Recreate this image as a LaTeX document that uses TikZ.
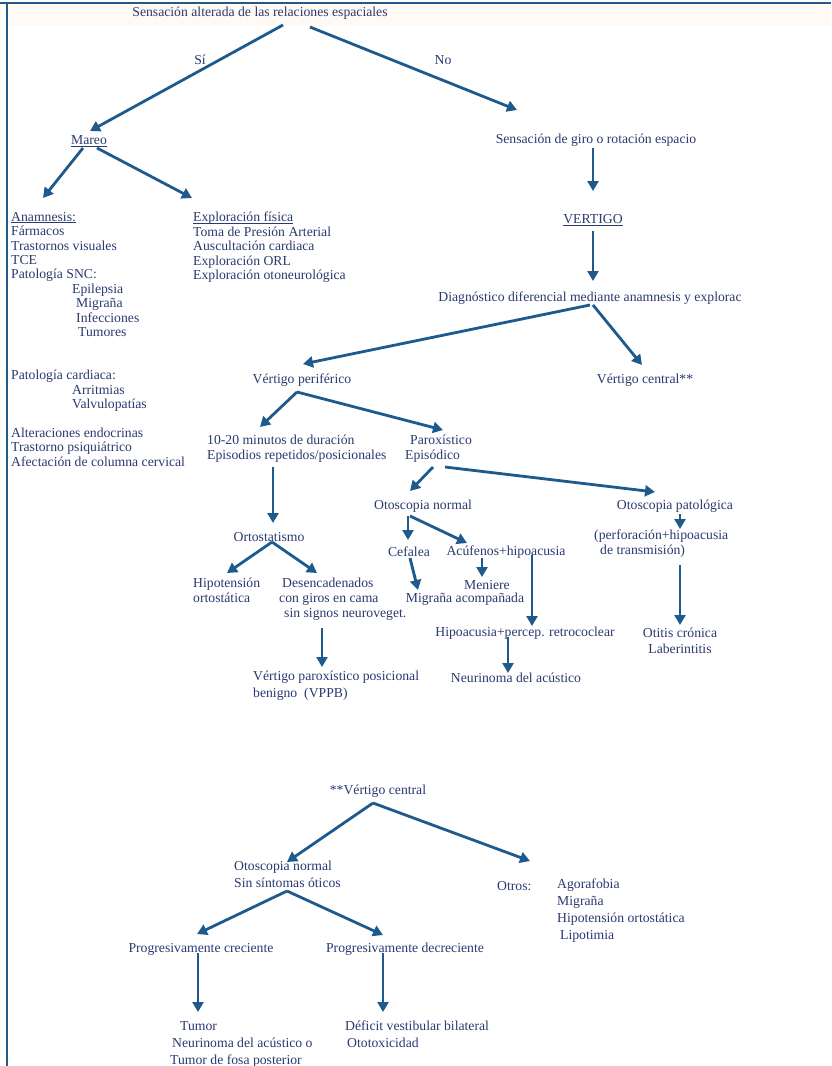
\documentclass[tikz,border=0pt]{standalone}
\usepackage{fontspec}
\setmainfont{Liberation Serif}
\usetikzlibrary{arrows.meta}
\definecolor{txt}{HTML}{2B3A70}
\definecolor{arrc}{HTML}{1E5A8C}
\definecolor{frm}{HTML}{245A88}
\newcommand{\myul}[1]{{\setbox0\hbox{#1}\rlap{\rule[-1.6pt]{\wd0}{0.6pt}}\box0}}
\begin{document}
\begin{tikzpicture}[x=1pt,y=-1pt,
 t/.style={inner sep=0pt, text=txt, font=\fontsize{13.7}{14.4}\selectfont},
 tl/.style={t, align=left, anchor=north west},
 tl15/.style={tl, font=\fontsize{13.7}{15}\selectfont},
 tl17/.style={tl, font=\fontsize{13.7}{17}\selectfont},
 arr/.style={draw=arrc, line width=2.8pt, -{Triangle[length=10pt,width=11pt]}},
]
\useasboundingbox (0,0) rectangle (831,1066);
\fill[white] (0,0) rectangle (831,1066);
\fill[orange!4] (8,5) rectangle (831,26);
\draw[frm, line width=2pt] (0,3) -- (831,3);
\draw[frm, line width=2pt] (7,3) -- (7,1066);

% top level
\node[t] (n0) at (260,13) {Sensación alterada de las relaciones espaciales};
\node[t] (si) at (200,60) {Sí};
\node[t] (no) at (443,60) {No};
\node[t] (mareo) at (89,141) {\myul{Mareo}};
\node[tl] (anam) at (11,212) {\myul{Anamnesis:}\\Fármacos\\Trastornos visuales\\TCE\\Patología SNC:\\
\hspace*{61pt}Epilepsia\\\hspace*{65pt}Migraña\\\hspace*{65pt}Infecciones\\\hspace*{67pt}Tumores\\[28.8pt]
Patología cardiaca:\\\hspace*{61pt}Arritmias\\\hspace*{61pt}Valvulopatías\\[14.4pt]
Alteraciones endocrinas\\Trastorno psiquiátrico\\Afectación de columna cervical};
\node[tl] (explo) at (193,212) {\myul{Exploración física}\\Toma de Presión Arterial\\Auscultación cardiaca\\Exploración ORL\\Exploración otoneurológica};

\node[t] (giro) at (596,140) {Sensación de giro o rotación espacio};
\node[t] (vert) at (593,220) {\myul{VERTIGO}};
\node[t] (diag) at (590,298) {Diagnóstico diferencial mediante anamnesis y explorac};
\node[t] (vper) at (302,380) {Vértigo periférico};
\node[t] (vcen) at (645,380) {Vértigo central**};
\node[tl15] (min) at (207,435) {10-20 minutos de duración\\Episodios repetidos/posicionales};
\node[tl15] (parox) at (405,435) {\hspace*{5pt}Paroxístico\\Episódico};
\node[t] (otn) at (423,506) {Otoscopia normal};
\node[t] (otp) at (675,506) {Otoscopia patológica};
\node[t] (orto) at (269,537) {Ortostatismo};
\node[t] (cef) at (409,552) {Cefalea};
\node[t] (acuf) at (506,552) {Acúfenos+hipoacusia};
\node[tl15] (perf) at (594,530) {(perforación+hipoacusia\\\hspace*{6pt}de transmisión)};
\node[tl15] (hipo) at (193,578) {Hipotensión\\ortostática};
\node[tl15] (desen) at (279,578) {\hspace*{3pt}Desencadenados\\con giros en cama\\\hspace*{5pt}sin signos neuroveget.};
\node[t] (men) at (487,585) {Meniere};
\node[t] (migac) at (465,599) {Migraña acompañada};
\node[t] (hipoac) at (525,633) {Hipoacusia+percep. retrococlear};
\node[t, align=center, font=\fontsize{13.7}{16}\selectfont] (otitis) at (680,641) {Otitis crónica\\Laberintitis};
\node[tl17] (vppb) at (253,671) {Vértigo paroxístico posicional\\benigno\ \ (VPPB)};
\node[t] (neur) at (516,678) {Neurinoma del acústico};

% arrows upper part
\draw[arr] ([shift={(23,12)}]n0.center) -- ([shift={(1,-10)}]mareo.center);
\draw[arr] ([shift={(50,14)}]n0.center) -- ([shift={(-79,-30)}]giro.center);
\draw[arr] ([shift={(-6,7)}]mareo.center) -- ([shift={(32,-14)}]anam.north west);
\draw[arr] ([shift={(8,7)}]mareo.center) -- ([shift={(-1,-14)}]explo.north west);
\draw[arr] ([shift={(-3,8)}]giro.center) -- ([shift={(0,-29)}]vert.center);
\draw[arr] ([shift={(0,11)}]vert.center) -- ([shift={(3,-17)}]diag.center);
\draw[arr] ([shift={(0,7)}]diag.center) -- ([shift={(1,-16)}]vper.center);
\draw[arr] ([shift={(3,7)}]diag.center) -- ([shift={(-3,-15)}]vcen.center);
\draw[arr] ([shift={(-5,12)}]vper.center) -- ([shift={(53,-8)}]min.north west);
\draw[arr] ([shift={(-5,12)}]vper.center) -- ([shift={(38,-5)}]parox.north west);
\draw[arr] ([shift={(66,32)}]min.north west) -- ([shift={(4,-14)}]orto.center);
\draw[arr] ([shift={(28,32)}]parox.north west) -- ([shift={(-13,-15)}]otn.center);
\draw[arr] ([shift={(40,32)}]parox.north west) -- ([shift={(-20,-14)}]otp.center);
\draw[arr] ([shift={(-15,10)}]otn.center) -- ([shift={(-1,-12)}]cef.center);
\draw[arr] ([shift={(-13,10)}]otn.center) -- ([shift={(-39,-9)}]acuf.center);
\draw[arr] ([shift={(-24,6)}]acuf.center) -- ([shift={(-5,-8)}]men.center);
\draw[arr] ([shift={(1,6)}]cef.center) -- ([shift={(-47,-9)}]migac.center);
\draw[arr] ([shift={(26,3)}]acuf.center) -- ([shift={(7,-7)}]hipoac.center);
\draw[arr] ([shift={(-17,4)}]hipoac.center) -- ([shift={(-8,-5)}]neur.center);
\draw[arr] ([shift={(5,8)}]otp.center) -- ([shift={(86,-1)}]perf.north west);
\draw[arr] ([shift={(86,35)}]perf.north west) -- ([shift={(0,-16)}]otitis.center);
\draw[arr] ([shift={(3,5)}]orto.center) -- ([shift={(34,-5)}]hipo.north west);
\draw[arr] ([shift={(3,5)}]orto.center) -- ([shift={(38,-5)}]desen.north west);
\draw[arr] ([shift={(43,50)}]desen.north west) -- ([shift={(69,-4)}]vppb.north west);

% lower part
\node[t] (vc2) at (378,791) {**Vértigo central};
\node[tl17] (otn2) at (234,861) {Otoscopia normal\\Sin síntomas óticos};
\node[t, anchor=west] (otros) at (497,886) {Otros:};
\node[tl17] (agor) at (557,879) {Agorafobia\\Migraña\\Hipotensión ortostática\\\hspace*{3pt}Lipotimia};
\node[t] (pcre) at (201,949) {Progresivamente creciente};
\node[t] (pdec) at (405,949) {Progresivamente decreciente};
\node[tl17] (tumor) at (170,1021) {\hspace*{10pt}Tumor\\\hspace*{2pt}Neurinoma del acústico o\\Tumor de fosa posterior};
\node[tl17] (defi) at (345,1021) {Déficit vestibular bilateral\\\hspace*{2pt}Ototoxicidad};

\draw[arr] ([shift={(-5,12)}]vc2.center) -- ([shift={(53,1)}]otn2.north west);
\draw[arr] ([shift={(-5,12)}]vc2.center) -- ([shift={(33,-25)}]otros.west);
\draw[arr] ([shift={(53,30)}]otn2.north west) -- ([shift={(-4,-15)}]pcre.center);
\draw[arr] ([shift={(53,30)}]otn2.north west) -- ([shift={(-22,-14)}]pdec.center);
\draw[arr] ([shift={(-3,4)}]pcre.center) -- ([shift={(28,-9)}]tumor.north west);
\draw[arr] ([shift={(-22,4)}]pdec.center) -- ([shift={(38,-9)}]defi.north west);
\end{tikzpicture}
\end{document}
